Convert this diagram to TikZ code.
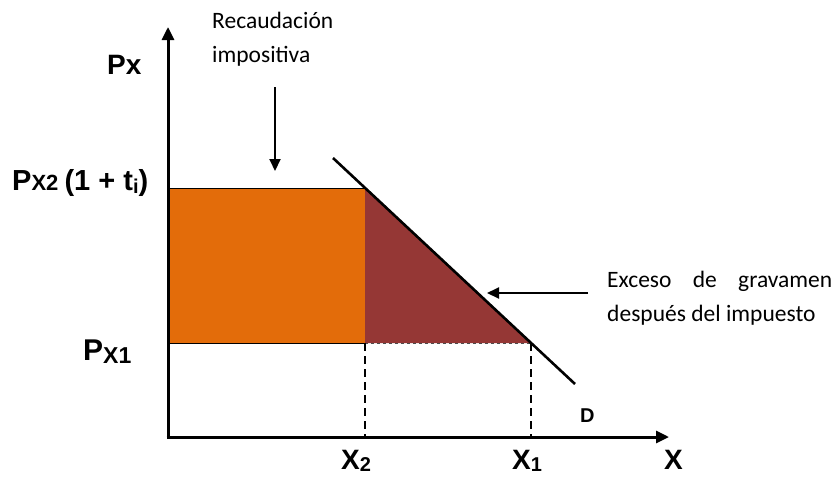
\documentclass[tikz,border=0pt]{standalone}
\usepackage{fontspec}
\usepackage{graphicx}
\setmainfont{Liberation Sans}
\newfontfamily\calibrifont{Carlito}
\usetikzlibrary{arrows.meta}
\definecolor{taxorange}{HTML}{E36C0A}
\definecolor{dwlred}{HTML}{953735}
\begin{document}
\begin{tikzpicture}[x=1pt,y=-1pt,
  axis/.style={line width=3pt,-{Triangle[length=13pt,width=12pt]}},
  pointer/.style={line width=2pt,-{Triangle[length=12pt,width=11pt]}},
  guide/.style={line width=1.6pt,dash pattern=on 8pt off 5pt},
  lbl/.style={font=\bfseries\fontsize{28}{30}\selectfont,inner sep=0pt},
  note/.style={font=\calibrifont\fontsize{23.5}{34}\selectfont,inner sep=0pt,align=left}]
\useasboundingbox (0,0) rectangle (834,477);
\coordinate (O) at (168,437);
\coordinate (Ytop) at (168,27);
\coordinate (Xend) at (669,437);
\coordinate (L) at (168,188);
\coordinate (M) at (168,343);
\coordinate (A) at (365,188);
\coordinate (B) at (531,343);
\coordinate (C) at (365,343);
\coordinate (Ds) at (333,158);
\coordinate (De) at (575,384);
\coordinate (X2b) at (365,437);
\coordinate (X1b) at (531,437);
% areas
\fill[taxorange] (L) rectangle (C);
\draw[line width=0.8pt] (L) -- (A) -- (C) -- (M);
\fill[dwlred] (A) -- (B) -- (C) -- cycle;
\draw[line width=0.8pt,dashed,gray!60!black] (C) -- (B);
% demand
\draw[line width=2.6pt] (Ds) -- (De);
% guides
\draw[guide] (C) -- (X2b);
\draw[guide] (B) -- (X1b);
% axes
\draw[axis] (O) ++(-1.5,0) -- (Xend);
\draw[axis] (O) ++(0,1.5) -- (Ytop);
% labels
\node[lbl,anchor=base west] (px) at (107,74) {Px};
\node[lbl,anchor=base west] (px2) at (12,190) {\fontsize{29}{30}\selectfont P\fontsize{22}{24}\selectfont X2 \fontsize{29}{30}\selectfont(1 + t\raisebox{-3pt}{\fontsize{20}{22}\selectfont i})};
\node[lbl,anchor=base west] (px1) at (83,360) {\fontsize{30}{32}\selectfont P\raisebox{-3pt}{\fontsize{23}{24}\selectfont X1}};
\node[lbl,anchor=base west] (x2) at (341,469) {X\raisebox{-2pt}{\fontsize{20}{22}\selectfont 2}};
\node[lbl,anchor=base west] (x1) at (512,469) {X\raisebox{-2pt}{\fontsize{20}{22}\selectfont 1}};
\node[lbl,anchor=base west] (xl) at (664,469) {X};
\node[lbl,font=\bfseries\fontsize{20}{22}\selectfont,anchor=base west] (dl) at (580,422) {D};
% notes
\node[note,anchor=base west] (rec) at (212,62) {Recaudación\\impositiva};
\node[note,anchor=base west] (exc) at (607,321) {\makebox[225pt][s]{Exceso de gravamen}\\después del impuesto};
\coordinate (r1) at (275,87);
\coordinate (r2) at (275,171);
\draw[pointer] (r1) -- (r2);
\coordinate (e1) at (588,293);
\coordinate (e2) at (487,293);
\draw[pointer] (e1) -- (e2);
\end{tikzpicture}
\end{document}
